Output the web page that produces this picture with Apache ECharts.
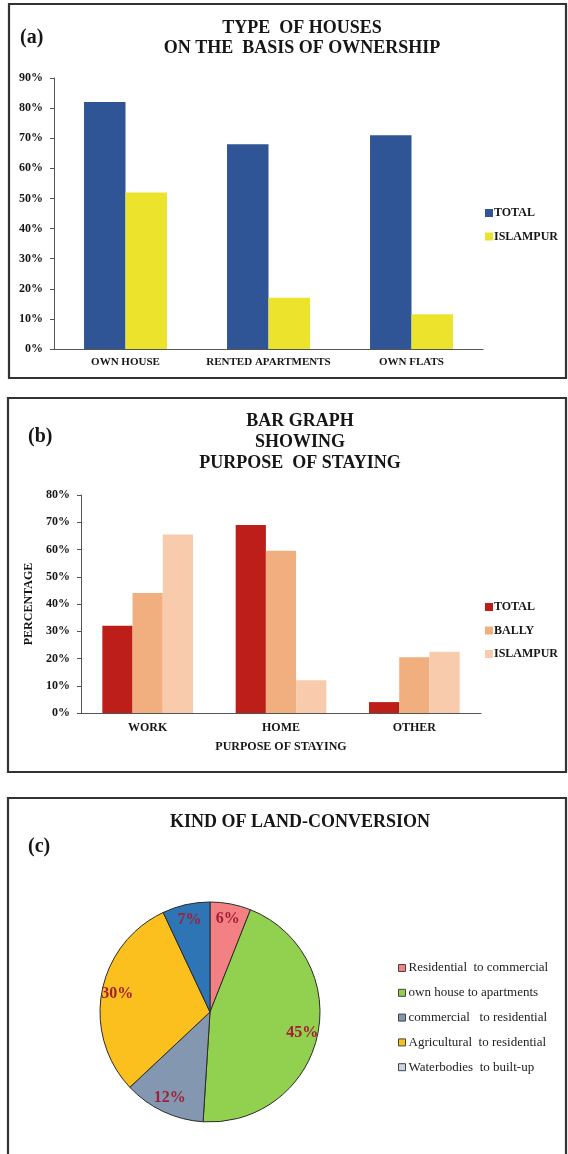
<!DOCTYPE html>
<html>
<head>
<meta charset="utf-8">
<style>
  html, body { margin: 0; padding: 0; background: #fff; }
  .panel { position: absolute; left: 0; width: 568px; }
  #panelA { top: 0; height: 390px; }
  #panelB { top: 390px; height: 395px; }
  #panelC { top: 785px; height: 369px; }
</style>
<script src="https://cdn.jsdelivr.net/npm/echarts@6/dist/echarts.min.js"></script>
</head>
<body>
<div id="panelA" class="panel"></div>
<div id="panelB" class="panel"></div>
<div id="panelC" class="panel"></div>
<script>
// (a) type of houses on the basis of ownership
const houseTypes = ['OWN HOUSE', 'RENTED APARTMENTS', 'OWN FLATS'];
const houseTotal = [82, 68, 71];
const houseIslampur = [52, 17, 11.5];

// (b) purpose of staying
const purposes = ['WORK', 'HOME', 'OTHER'];
const purposeTotal = [32, 69, 4];
const purposeBally = [44, 59.5, 20.5];
const purposeIslampur = [65.5, 12, 22.5];

// (c) kind of land conversion
const conversionKinds = [
  'Residential  to commercial',
  'own house to apartments',
  'commercial   to residential',
  'Agricultural  to residential',
  'Waterbodies  to built-up'
];
const conversionShares = [6, 45, 12, 30, 7];

const SERIF = "'Liberation Serif', 'Times New Roman', serif";
const INK = '#161616';
const AXIS = '#555';

function frame(x, y, w, h) {
  return {
    type: 'rect', z: 0, silent: true,
    shape: { x: x, y: y, width: w, height: h },
    style: { fill: 'none', stroke: '#333', lineWidth: 2.2 }
  };
}
function heading(text, x, y, size, lineHeight, align) {
  return {
    type: 'text', z: 10, silent: true, x: x, y: y,
    style: {
      text: text, fill: INK, fontFamily: SERIF, fontWeight: 'bold',
      fontSize: size, lineHeight: lineHeight,
      align: align || 'center', verticalAlign: 'middle'
    }
  };
}
function valueAxis(max, labelSize) {
  return {
    type: 'value', min: 0, max: max, interval: 10,
    axisLine: { show: true, lineStyle: { color: AXIS, width: 1 } },
    axisTick: { show: true, length: 4, lineStyle: { color: AXIS } },
    splitLine: { show: false },
    axisLabel: {
      formatter: '{value}%', margin: 11, color: INK,
      fontFamily: SERIF, fontWeight: 'bold', fontSize: labelSize
    }
  };
}
function categoryAxis(data, labelSize, margin) {
  return {
    type: 'category', data: data,
    axisLine: { lineStyle: { color: AXIS, width: 1 } },
    axisTick: { length: 4, lineStyle: { color: AXIS } },
    axisLabel: {
      margin: margin, color: INK, interval: 0,
      fontFamily: SERIF, fontWeight: 'bold', fontSize: labelSize
    }
  };
}
function barLegend(names, top) {
  return {
    orient: 'vertical', left: 480, top: top,
    data: names, icon: 'rect', itemWidth: 8, itemHeight: 8, itemGap: 9.5,
    textStyle: {
      color: INK, fontFamily: SERIF, fontWeight: 'bold', fontSize: 12,
      lineHeight: 14, padding: [0, 0, 0, -4]
    }
  };
}

// ---- panel (a)
const chartA = echarts.init(document.getElementById('panelA'));
chartA.setOption({
  animation: false,
  graphic: [
    frame(9, 4, 557, 374),
    heading('TYPE  OF HOUSES\nON THE  BASIS OF OWNERSHIP', 302, 38, 18, 20),
    heading('(a)', 20, 38, 20, 22, 'left')
  ],
  grid: { left: 54, top: 78, width: 429, height: 271 },
  xAxis: categoryAxis(houseTypes, 11, 8),
  yAxis: valueAxis(90, 12),
  legend: barLegend(['TOTAL', 'ISLAMPUR'], 201),
  series: [
    { name: 'TOTAL', type: 'bar', data: houseTotal, barGap: '0%', barCategoryGap: '42%',
      itemStyle: { color: '#2f5597' } },
    { name: 'ISLAMPUR', type: 'bar', data: houseIslampur, barGap: '0%', barCategoryGap: '42%',
      itemStyle: { color: '#ece42c' } }
  ]
});

// ---- panel (b)
const chartB = echarts.init(document.getElementById('panelB'));
const yB = valueAxis(80, 12);
yB.name = 'PERCENTAGE';
yB.nameLocation = 'middle';
yB.nameGap = 36;
yB.nameTextStyle = { color: INK, fontFamily: SERIF, fontWeight: 'bold', fontSize: 12 };
const xB = categoryAxis(purposes, 12, 9);
xB.name = 'PURPOSE OF STAYING';
xB.nameLocation = 'middle';
xB.nameGap = 28;
xB.nameTextStyle = { color: INK, fontFamily: SERIF, fontWeight: 'bold', fontSize: 12 };
chartB.setOption({
  animation: false,
  graphic: [
    frame(8, 8, 558, 374),
    heading('BAR GRAPH\nSHOWING\nPURPOSE  OF STAYING', 300, 52, 18, 21),
    heading('(b)', 28, 47, 20, 22, 'left')
  ],
  grid: { left: 81, top: 105, width: 400, height: 218 },
  xAxis: xB,
  yAxis: yB,
  legend: barLegend(['TOTAL', 'BALLY', 'ISLAMPUR'], 205),
  series: [
    { name: 'TOTAL', type: 'bar', data: purposeTotal, barGap: '0%', barCategoryGap: '32%',
      itemStyle: { color: '#be1e1a' } },
    { name: 'BALLY', type: 'bar', data: purposeBally, barGap: '0%', barCategoryGap: '32%',
      itemStyle: { color: '#f1ae7f' } },
    { name: 'ISLAMPUR', type: 'bar', data: purposeIslampur, barGap: '0%', barCategoryGap: '32%',
      itemStyle: { color: '#f8cbac' } }
  ]
});

// ---- panel (c)
const pieColors = ['#f38184', '#92d050', '#8497b0', '#fcc01e', '#2e75b6'];
const pieData = conversionKinds.map((k, i) => ({
  name: k, value: conversionShares[i], itemStyle: { color: pieColors[i] }
}));
// transparent ring carrying the percentage labels further out than mid-radius
const labelRing = conversionKinds.map((k, i) => ({
  name: k, value: conversionShares[i], itemStyle: { color: 'rgba(0,0,0,0)' }
}));
const legendC = conversionKinds.map((k, i) =>
  i === conversionKinds.length - 1 ? { name: k, itemStyle: { color: '#c9d5e6' } } : { name: k });

const chartC = echarts.init(document.getElementById('panelC'));
chartC.setOption({
  animation: false,
  graphic: [
    frame(8, 13, 558, 400),
    heading('KIND OF LAND-CONVERSION', 300, 37, 18, 20),
    heading('(c)', 28, 62, 20, 22, 'left')
  ],
  legend: {
    orient: 'vertical', left: 393, top: 171,
    data: legendC, icon: 'rect', itemWidth: 7, itemHeight: 7, itemGap: 10.8,
    itemStyle: { borderColor: '#444', borderWidth: 1 },
    textStyle: {
      color: '#222', fontFamily: SERIF, fontSize: 13, lineHeight: 14,
      padding: [0, 0, 0, -2]
    }
  },
  series: [
    {
      type: 'pie', center: [210, 227], radius: [0, 110],
      startAngle: 90, clockwise: true,
      data: pieData,
      label: { show: false }, labelLine: { show: false },
      itemStyle: { borderColor: '#2a2a2a', borderWidth: 1 },
      emphasis: { disabled: true }
    },
    {
      type: 'pie', center: [210, 227], radius: [73, 110],
      startAngle: 90, clockwise: true, silent: true,
      data: labelRing,
      itemStyle: { borderWidth: 0 },
      labelLine: { show: false },
      label: {
        show: true, position: 'inside', formatter: '{c}%',
        color: '#a31f34', fontFamily: SERIF, fontWeight: 'bold', fontSize: 16,
        textBorderWidth: 0
      },
      emphasis: { disabled: true }
    }
  ]
});
</script>
</body>
</html>
